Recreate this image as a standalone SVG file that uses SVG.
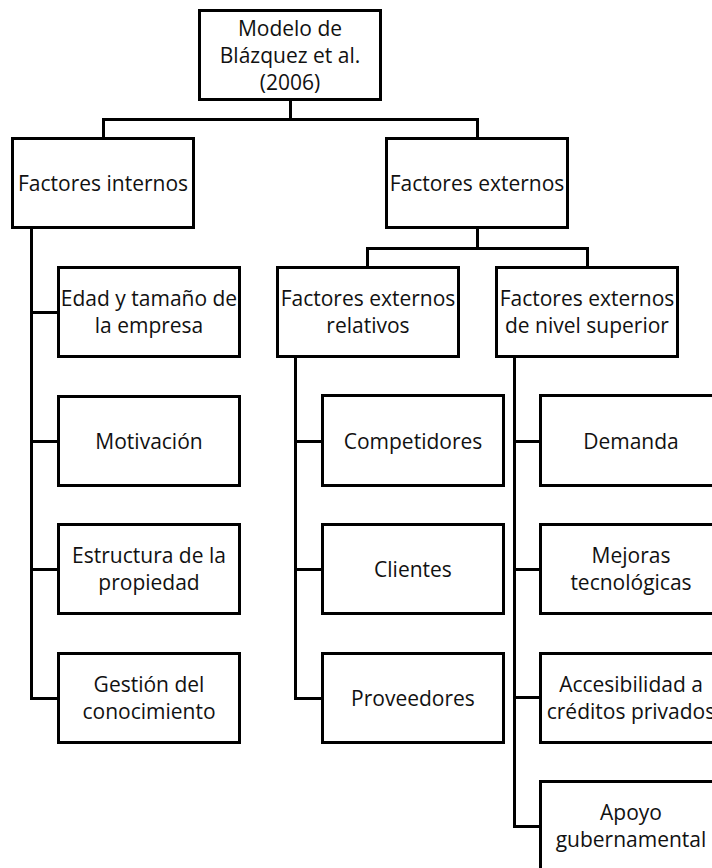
<svg xmlns="http://www.w3.org/2000/svg" width="712" height="868" viewBox="0 0 712 868">
  <style>
    .box { fill: #ffffff; stroke: #000000; stroke-width: 3; }
    .lbl { font-family: "Open Sans", "Noto Sans", "Liberation Sans", sans-serif; font-size: 21px; fill: #111111; text-anchor: middle; }
    .wire { fill: none; stroke: #000000; stroke-width: 3; stroke-linejoin: miter; stroke-linecap: butt; }
  </style>
  <rect x="0" y="0" width="712" height="868" fill="#ffffff"/>

  <!-- connectors -->
  <g id="connectors">
    <!-- root to first level -->
    <path class="wire" d="M290.5 100 V119.5 M103.5 138 V119.5 H477.5 V138"/>
    <!-- internal factors trunk -->
    <path class="wire" d="M31.5 228 V698.5 H58 M31.5 312.5 H58 M31.5 441.5 H58 M31.5 569.5 H58"/>
    <!-- external factors split -->
    <path class="wire" d="M477.5 228 V248.5 M367.5 267 V248.5 H587.5 V267"/>
    <!-- relative external factors trunk -->
    <path class="wire" d="M295.5 357 V698.5 H322 M295.5 441.5 H322 M295.5 569.5 H322"/>
    <!-- higher-level external factors trunk -->
    <path class="wire" d="M514.5 357 V826.5 H540 M514.5 441.5 H540 M514.5 569.5 H540 M514.5 697.5 H540"/>
  </g>

  <!-- root -->
  <g id="modelo">
    <rect class="box" x="199.5" y="10.5" width="181" height="89"/>
    <text class="lbl" x="290" y="36">Modelo de</text>
    <text class="lbl" x="290" y="63">Blázquez et al.</text>
    <text class="lbl" x="290" y="90">(2006)</text>
  </g>

  <!-- first level -->
  <g id="factores-internos">
    <rect class="box" x="12.5" y="138.5" width="181" height="89"/>
    <text class="lbl" x="103" y="191">Factores internos</text>
  </g>
  <g id="factores-externos">
    <rect class="box" x="386.5" y="138.5" width="181" height="89"/>
    <text class="lbl" x="477" y="191">Factores externos</text>
  </g>

  <!-- second level -->
  <g id="factores-externos-relativos">
    <rect class="box" x="277.5" y="267.5" width="181" height="89"/>
    <text class="lbl" x="368" y="306">Factores externos</text>
    <text class="lbl" x="368" y="333">relativos</text>
  </g>
  <g id="factores-externos-nivel-superior">
    <rect class="box" x="496.5" y="267.5" width="181" height="89"/>
    <text class="lbl" x="587" y="306">Factores externos</text>
    <text class="lbl" x="587" y="333">de nivel superior</text>
  </g>

  <!-- internal factors -->
  <g id="edad-tamano">
    <rect class="box" x="58.5" y="267.5" width="181" height="89"/>
    <text class="lbl" x="149" y="306">Edad y tamaño de</text>
    <text class="lbl" x="149" y="333">la empresa</text>
  </g>
  <g id="motivacion">
    <rect class="box" x="58.5" y="396.5" width="181" height="89"/>
    <text class="lbl" x="149" y="449">Motivación</text>
  </g>
  <g id="estructura-propiedad">
    <rect class="box" x="58.5" y="524.5" width="181" height="89"/>
    <text class="lbl" x="149" y="563">Estructura de la</text>
    <text class="lbl" x="149" y="590">propiedad</text>
  </g>
  <g id="gestion-conocimiento">
    <rect class="box" x="58.5" y="653.5" width="181" height="89"/>
    <text class="lbl" x="149" y="692">Gestión del</text>
    <text class="lbl" x="149" y="719">conocimiento</text>
  </g>

  <!-- relative external factors -->
  <g id="competidores">
    <rect class="box" x="322.5" y="395.5" width="181" height="90"/>
    <text class="lbl" x="413" y="449">Competidores</text>
  </g>
  <g id="clientes">
    <rect class="box" x="322.5" y="524.5" width="181" height="89"/>
    <text class="lbl" x="413" y="577">Clientes</text>
  </g>
  <g id="proveedores">
    <rect class="box" x="322.5" y="653.5" width="181" height="89"/>
    <text class="lbl" x="413" y="706">Proveedores</text>
  </g>

  <!-- higher-level external factors -->
  <g id="demanda">
    <rect class="box" x="540.5" y="395.5" width="181" height="90"/>
    <text class="lbl" x="631" y="449">Demanda</text>
  </g>
  <g id="mejoras-tecnologicas">
    <rect class="box" x="540.5" y="524.5" width="181" height="89"/>
    <text class="lbl" x="631" y="563">Mejoras</text>
    <text class="lbl" x="631" y="590">tecnológicas</text>
  </g>
  <g id="accesibilidad-creditos">
    <rect class="box" x="540.5" y="653.5" width="181" height="89"/>
    <text class="lbl" x="631" y="692">Accesibilidad a</text>
    <text class="lbl" x="631" y="719">créditos privados</text>
  </g>
  <g id="apoyo-gubernamental">
    <rect class="box" x="540.5" y="781.5" width="181" height="89"/>
    <text class="lbl" x="631" y="820">Apoyo</text>
    <text class="lbl" x="631" y="847">gubernamental</text>
  </g>
</svg>
